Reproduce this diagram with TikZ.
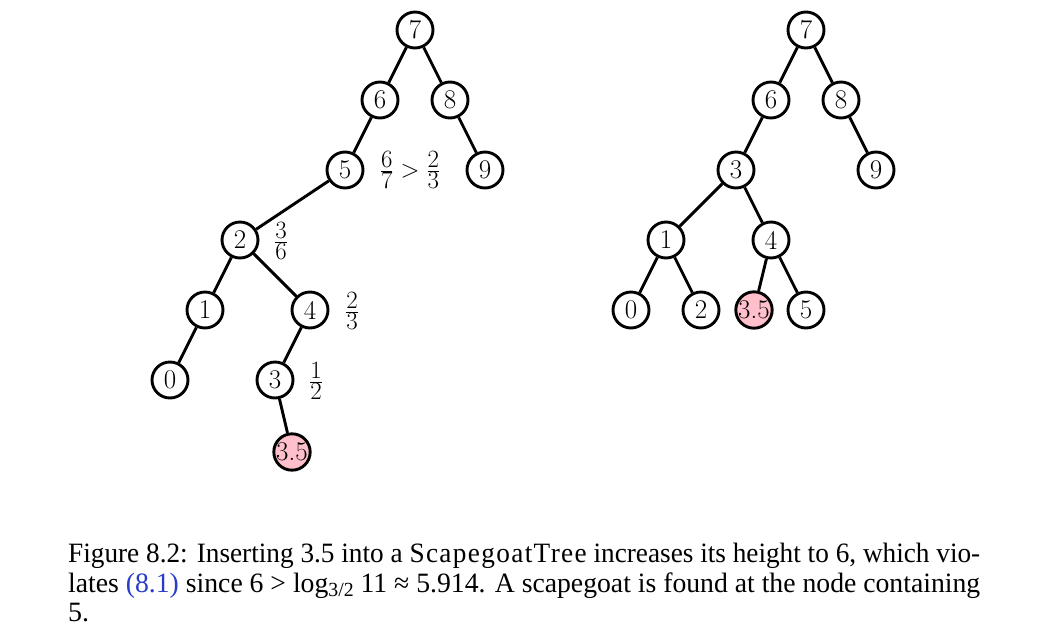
\documentclass[tikz,border=0pt]{standalone}
\usepackage{fontspec}
\usepackage{graphicx}
\newfontfamily\capfont{Liberation Serif}
\newfontfamily\clsfont[LetterSpace=5]{Liberation Serif}
\definecolor{linkblue}{RGB}{40,60,200}
\definecolor{nodepink}{RGB}{255,192,203}
\tikzset{
  tn/.style={circle,draw=black,line width=2.9pt,minimum size=36pt,inner sep=0pt,fill=white,font=\fontsize{27}{27}\selectfont},
  pk/.style={tn,fill=nodepink},
  ed/.style={line width=2.9pt},
  lab/.style={inner sep=0pt,font=\fontsize{33}{33}\selectfont},
  capline/.style={anchor=base west,inner sep=0pt,font=\capfont\fontsize{28}{28}\selectfont}
}
\begin{document}
\begin{tikzpicture}[x=1pt,y=-1pt]
\useasboundingbox (0,0) rectangle (1037,630);
% left tree
\node[tn] (L7) at (415,30) {7};
\node[tn] (L6) at (380,100) {6};
\node[tn] (L8) at (450,100) {8};
\node[tn] (L5) at (345,170) {5};
\node[tn] (L9) at (485,170) {9};
\node[tn] (L2) at (240,240) {2};
\node[tn] (L1) at (205,310) {1};
\node[tn] (L4) at (310,310) {4};
\node[tn] (L0) at (170,380) {0};
\node[tn] (L3) at (275,380) {3};
\node[pk] (L35) at (292,452) {3.5};
\draw[ed] (L7) -- (L6);
\draw[ed] (L7) -- (L8);
\draw[ed] (L6) -- (L5);
\draw[ed] (L8) -- (L9);
\draw[ed] (L5) -- (L2);
\draw[ed] (L2) -- (L1);
\draw[ed] (L2) -- (L4);
\draw[ed] (L1) -- (L0);
\draw[ed] (L4) -- (L3);
\draw[ed] (L3) -- (L35);
\node[lab] (f1) at (410,170) {$\frac{6}{7}>\frac{2}{3}$};
\node[lab] (f2) at (281,241) {$\frac{3}{6}$};
\node[lab] (f3) at (352,311) {$\frac{2}{3}$};
\node[lab] (f4) at (316,381) {$\frac{1}{2}$};
% right tree
\node[tn] (R7) at (806,30) {7};
\node[tn] (R6) at (771,100) {6};
\node[tn] (R8) at (841,100) {8};
\node[tn] (R3) at (736,170) {3};
\node[tn] (R9) at (876,170) {9};
\node[tn] (R1) at (666,240) {1};
\node[tn] (R4) at (771,240) {4};
\node[tn] (R0) at (631,310) {0};
\node[tn] (R2) at (701,310) {2};
\node[pk] (R35) at (754,310) {3.5};
\node[tn] (R5) at (806,310) {5};
\draw[ed] (R7) -- (R6);
\draw[ed] (R7) -- (R8);
\draw[ed] (R6) -- (R3);
\draw[ed] (R8) -- (R9);
\draw[ed] (R3) -- (R1);
\draw[ed] (R3) -- (R4);
\draw[ed] (R1) -- (R0);
\draw[ed] (R1) -- (R2);
\draw[ed] (R4) -- (R35);
\draw[ed] (R4) -- (R5);
% caption
\node[capline] (c1) at (68,562) {\resizebox{912pt}{\height}{Figure 8.2: Inserting 3.5 into a {\clsfont ScapegoatTree} increases its height to 6, which vio-}};
\node[capline] (c2) at (68,592) {\resizebox{912pt}{\height}{lates {\color{linkblue}(8.1)} since 6 > log\raisebox{-0.35ex}{\fontsize{20}{20}\selectfont 3/2} 11 ≈ 5.914. A scapegoat is found at the node containing}};
\node[capline] (c3) at (68,621) {5.};
\end{tikzpicture}
\end{document}
